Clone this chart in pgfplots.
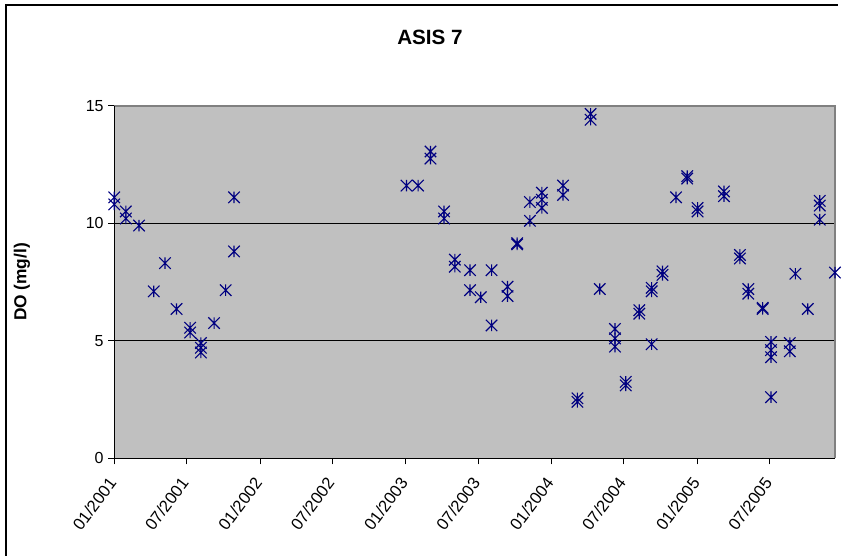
\documentclass[border=0pt]{standalone}
\usepackage{pgfplots}
\pgfplotsset{compat=1.18}
\usepackage{fontspec}
\setmainfont{Liberation Sans}
\definecolor{navy}{RGB}{0,0,128}
\definecolor{plotgray}{RGB}{192,192,192}
\definecolor{bordergray}{RGB}{128,128,128}
\pgfdeclareplotmark{xstar}{%
 \pgfpathmoveto{\pgfqpoint{-\pgfplotmarksize}{-\pgfplotmarksize}}%
 \pgfpathlineto{\pgfqpoint{\pgfplotmarksize}{\pgfplotmarksize}}%
 \pgfpathmoveto{\pgfqpoint{-\pgfplotmarksize}{\pgfplotmarksize}}%
 \pgfpathlineto{\pgfqpoint{\pgfplotmarksize}{-\pgfplotmarksize}}%
 \pgfpathmoveto{\pgfqpoint{0pt}{-\pgfplotmarksize}}%
 \pgfpathlineto{\pgfqpoint{0pt}{\pgfplotmarksize}}%
 \pgfusepathqstroke}
\begin{document}
\begin{tikzpicture}
\useasboundingbox (0,0) rectangle (634.5pt,417pt);
\draw[line width=1pt] (4.5pt,0) -- (4.5pt,413.25pt) -- (628.3pt,413.25pt);
\node[font=\bfseries\fontsize{15.5}{18}\selectfont] at (322.5pt,389.25pt) {ASIS 7};
\node[rotate=90, font=\bfseries\fontsize{13}{15}\selectfont] at (16.5pt,205.5pt) {DO (mg/l)};
\begin{axis}[
  at={(85.7pt,73.3pt)}, anchor=south west,
  scale only axis, width=540.5pt, height=264.45pt,
  xmin=0, xmax=1805, ymin=0, ymax=15,
  clip=false,
  axis background/.style={fill=plotgray},
  axis line style={draw=none},
  ymajorgrids, grid style={black, line width=0.6pt},
  ytick={0,5,10,15},
  xtick={0,181,365,546,730,911,1095,1276,1461,1642},
  xticklabels={01/2001,07/2001,01/2002,07/2002,01/2003,07/2003,01/2004,07/2004,01/2005,07/2005},
  tick align=outside, major tick length=4.5pt,
  xtick pos=bottom, ytick pos=left,
  tick style={black, line width=0.6pt},
  /pgf/number format/assume math mode=true,
  yticklabel style={font=\fontsize{12}{14}\selectfont},
  xticklabel shift=10pt,
  xticklabel style={font=\fontsize{12.5}{14}\selectfont, rotate=53, anchor=east, inner sep=2pt},
]
\addplot[only marks, mark=xstar, mark size=4.3pt, navy, line width=0.85pt] coordinates {
(0,11.1) (0,10.8)
(29,10.5) (29,10.2)
(62,9.9)
(99,7.1)
(127,8.3)
(156,6.35)
(190,5.55) (190,5.35)
(217,4.9) (217,4.7) (217,4.5)
(250,5.75)
(279,7.15)
(300,11.1) (300,8.8)
(732,11.6)
(761,11.6)
(792,13.05) (792,12.75)
(826,10.5) (826,10.2)
(853,8.45) (853,8.15)
(891,8.0) (891,7.15)
(918,6.85)
(945,8.0) (945,5.65)
(985,7.3) (985,6.9)
(1009,9.15) (1009,9.1)
(1041,10.9) (1041,10.1)
(1071,11.3) (1071,11.0) (1071,10.65)
(1124,11.6) (1124,11.2)
(1160,2.55) (1160,2.4)
(1193,14.65) (1193,14.4)
(1216,7.2)
(1254,5.5) (1254,5.1) (1254,4.75)
(1281,3.25) (1281,3.1)
(1315,6.3) (1315,6.15)
(1346,7.25) (1346,7.1) (1346,4.85)
(1373,7.95) (1373,7.8)
(1407,11.1)
(1435,12.0) (1435,11.9)
(1461,10.65) (1461,10.5)
(1527,11.35) (1527,11.15)
(1567,8.65) (1567,8.5)
(1588,7.2) (1588,7.0)
(1624,6.4) (1624,6.35)
(1645,4.95) (1645,4.6) (1645,4.3) (1645,2.6)
(1692,4.9) (1692,4.55)
(1706,7.85)
(1737,6.35)
(1767,10.95) (1767,10.75) (1767,10.15)
(1805,7.9)
};
\draw[bordergray, line width=1.5pt] (rel axis cs:0,1) -- (rel axis cs:1,1) -- (rel axis cs:1,0);
\draw[black, line width=0.8pt] (rel axis cs:0,1) -- (rel axis cs:0,0) -- (rel axis cs:1,0);
\end{axis}
\end{tikzpicture}
\end{document}
